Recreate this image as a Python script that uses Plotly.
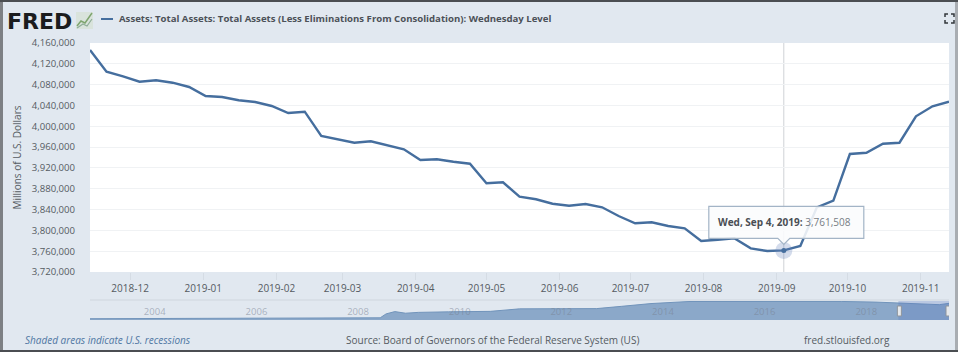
import plotly.graph_objects as go
import pandas as pd

W, H = 958, 352

# ---- data ----
SERIES_NAME = "Assets: Total Assets: Total Assets (Less Eliminations From Consolidation): Wednesday Level"
DATES = pd.date_range("2018-11-14", periods=53, freq="7D").strftime("%Y-%m-%d").tolist()
VALUES = [
    4146500, 4104900, 4096000, 4085600, 4088300, 4083700, 4075500, 4058200, 4056200, 4049900,
    4046600, 4039000, 4025500, 4028000, 3981300, 3974200, 3968400, 3971100, 3962700, 3955700,
    3935200, 3936500, 3931900, 3928100, 3890400, 3892300, 3864700, 3859700, 3851200, 3847400,
    3850600, 3844300, 3827600, 3813600, 3815500, 3808400, 3803900, 3779500, 3782000, 3784700,
    3765500, 3760300, 3761508, 3769900, 3844300, 3857000, 3946700, 3949200, 3966500, 3968400,
    4019200, 4038400, 4047200,
]
X_TICKS = ["2018-12-01", "2019-01-01", "2019-02-01", "2019-03-01", "2019-04-01", "2019-05-01",
           "2019-06-01", "2019-07-01", "2019-08-01", "2019-09-01", "2019-10-01", "2019-11-01"]
Y_TICKS = [3720000 + 40000 * i for i in range(12)]
HOVER_DATE = "2019-09-04"
HOVER_VALUE = 3761508
HOVER_LABEL = "Wed, Sep 4, 2019:"
HOVER_TEXT = "3,761,508"

NAV_DATES = ["2002-12-18", "2005-01-05", "2007-12-05", "2008-09-03", "2008-10-15", "2008-12-17",
             "2009-03-04", "2009-06-03", "2010-01-06", "2010-11-03", "2011-06-01", "2012-06-06",
             "2012-12-05", "2013-06-05", "2014-01-01", "2014-10-01", "2016-01-06", "2017-10-04",
             "2018-06-06", "2019-01-02", "2019-09-04", "2019-11-13"]
NAV_VALUES = [700000, 760000, 870000, 900000, 1750000, 2250000,
              1900000, 2080000, 2200000, 2300000, 2850000, 2850000,
              2900000, 3400000, 4000000, 4450000, 4480000, 4460000,
              4320000, 4050000, 3760000, 4047000]
NAV_TICKS = ["2004-01-01", "2006-01-01", "2008-01-01", "2010-01-01",
             "2012-01-01", "2014-01-01", "2016-01-01", "2018-01-01"]

CHROME = "#e1e8f0"
TEXT = "#555b62"
LINE = "#456e9e"
FONT = "Open Sans"


def px(x):
    return x / W


def py(y):
    return 1 - y / H


PLOT_L, PLOT_R, PLOT_T, PLOT_B = 90, 949, 43, 272
NAV_T, NAV_B = 301, 320

fig = go.Figure()
fig.add_trace(go.Scatter(x=DATES, y=VALUES, mode="lines", name=SERIES_NAME,
                         line=dict(color=LINE, width=2.4), showlegend=False))
fig.add_trace(go.Scatter(x=[HOVER_DATE], y=[HOVER_VALUE], mode="markers", showlegend=False,
                         marker=dict(size=17, color="rgba(100,130,185,0.28)")))
fig.add_trace(go.Scatter(x=[HOVER_DATE], y=[HOVER_VALUE], mode="markers", showlegend=False,
                         marker=dict(size=5, color=LINE)))
fig.add_trace(go.Scatter(x=NAV_DATES, y=NAV_VALUES, mode="lines", xaxis="x2", yaxis="y2",
                         showlegend=False, fill="tozeroy", fillcolor="#8ba8c9",
                         line=dict(color="#7194bb", width=1)))

shapes = [
    # navigator background (paints over the white plot background)
    dict(type="rect", xref="paper", yref="paper", x0=px(PLOT_L), x1=px(PLOT_R), y0=py(NAV_B), y1=py(NAV_T),
         fillcolor=CHROME, line_width=0, layer="below"),
    # screenshot frame
    dict(type="rect", xref="paper", yref="paper", x0=px(0), x1=px(3), y0=0, y1=1,
         fillcolor="#7d8084", line_width=0, layer="below"),
    dict(type="rect", xref="paper", yref="paper", x0=px(955), x1=px(958), y0=0, y1=1,
         fillcolor="#a9adb2", line_width=0, layer="below"),
    dict(type="rect", xref="paper", yref="paper", x0=0, x1=1, y0=py(2), y1=1,
         fillcolor="#4b4e52", line_width=0, layer="below"),
    dict(type="rect", xref="paper", yref="paper", x0=0, x1=1, y0=0, y1=py(350),
         fillcolor="#4b4e52", line_width=0, layer="below"),
    # separator above the navigator
    dict(type="line", xref="paper", yref="paper", x0=px(PLOT_L), x1=px(PLOT_R),
         y0=py(300), y1=py(300), line=dict(color="#cfd6de", width=1), layer="below"),
    # legend key
    dict(type="line", xref="paper", yref="paper", x0=px(101), x1=px(113), y0=py(19), y1=py(19),
         line=dict(color=LINE, width=2)),
    # crosshair
    dict(type="line", xref="x", yref="paper", x0=HOVER_DATE, x1=HOVER_DATE,
         y0=py(PLOT_B), y1=py(PLOT_T), line=dict(color="#cfd2d6", width=1), layer="below"),
    # navigator selection
    dict(type="rect", xref="x2", yref="paper", x0=DATES[0], x1=DATES[-1], y0=py(NAV_B), y1=py(NAV_T),
         fillcolor="rgba(85,120,190,0.28)", line_width=0),
    # tooltip
    dict(type="path", xref="x", yref="y", xsizemode="pixel", ysizemode="pixel",
         xanchor=HOVER_DATE, yanchor=HOVER_VALUE,
         path="M -75 12 L -6 12 L 0 6 L 6 12 L 80 12 L 80 44 L -75 44 Z",
         fillcolor="rgba(250,252,253,0.88)", line=dict(color="#a3b4c6", width=1.2)),
    # logo icon
    dict(type="rect", xref="paper", yref="paper", x0=px(76), x1=px(93), y0=py(29), y1=py(12),
         fillcolor="#d9e3dc", line_width=0),
    dict(type="path", xref="paper", yref="paper",
         path=f"M {px(77)} {py(26)} L {px(81)} {py(21)} L {px(85)} {py(23)} L {px(92)} {py(13)}",
         line=dict(color="#7ea56f", width=1.5)),
    dict(type="path", xref="paper", yref="paper",
         path=f"M {px(77)} {py(28)} L {px(83)} {py(24)} L {px(87)} {py(26)} L {px(92)} {py(19)}",
         line=dict(color="#8fae98", width=1.2)),
]
# navigator handles at both ends of the selection
for d in (DATES[0], DATES[-1]):
    shapes.append(dict(type="rect", xref="x2", yref="paper", xsizemode="pixel", xanchor=d,
                       x0=-3 if d == DATES[-1] else -1, x1=1 if d == DATES[-1] else 3,
                       y0=py(316), y1=py(306),
                       fillcolor="#e6e9ec", line=dict(color="#8f959c", width=1)))
# full-screen icon corners
for cx, cy, dx, dy in [(945, 14, 1, 1), (954, 14, -1, 1), (945, 23, 1, -1), (954, 23, -1, -1)]:
    shapes.append(dict(type="path", xref="paper", yref="paper",
                       path=f"M {px(cx + 3 * dx)} {py(cy)} L {px(cx)} {py(cy)} L {px(cx)} {py(cy + 3 * dy)}",
                       line=dict(color="#33373b", width=1.5)))

annotations = [
    dict(text="<b>FRED</b>", xref="paper", yref="paper", x=px(5), y=py(21), xanchor="left", yanchor="middle",
         showarrow=False, font=dict(family="DejaVu Sans", size=22, color="#1b1c1e")),
    dict(text="<b>" + SERIES_NAME + "</b>", xref="paper", yref="paper", x=px(117), y=py(19),
         xanchor="left", yanchor="middle", showarrow=False,
         font=dict(family=FONT, size=9.6, color="#4c5158")),
    dict(text="<i>Shaded areas indicate U.S. recessions</i>", xref="paper", yref="paper", x=px(23), y=py(340),
         xanchor="left", yanchor="middle", showarrow=False,
         font=dict(family=FONT, size=10, color="#4f77a3")),
    dict(text="Source: Board of Governors of the Federal Reserve System (US)", xref="paper", yref="paper",
         x=px(344), y=py(340), xanchor="left", yanchor="middle", showarrow=False,
         font=dict(family=FONT, size=10, color=TEXT)),
    dict(text="fred.stlouisfed.org", xref="paper", yref="paper", x=px(802), y=py(340),
         xanchor="left", yanchor="middle", showarrow=False,
         font=dict(family=FONT, size=10, color=TEXT)),
    dict(text=f"<b>{HOVER_LABEL}</b> <span style='color:#777d84'>{HOVER_TEXT}</span>", xref="x", yref="y",
         x=HOVER_DATE, y=HOVER_VALUE, xshift=1, yshift=28, showarrow=False,
         font=dict(family=FONT, size=10, color="#4a4e54")),
]

fig.update_layout(
    width=W, height=H, margin=dict(l=0, r=0, t=0, b=0, pad=0),
    paper_bgcolor=CHROME, plot_bgcolor="white",
    font=dict(family=FONT, size=10, color=TEXT),
    showlegend=False, hovermode=False,
    shapes=shapes, annotations=annotations,
    xaxis=dict(domain=[px(PLOT_L), px(PLOT_R)], range=[DATES[0], DATES[-1]], anchor="y", automargin=False,
               tickvals=X_TICKS, tickformat="%Y-%m", ticks="outside", ticklen=7,
               tickcolor="#d5dce4", showgrid=False, zeroline=False, showline=False,
               tickfont=dict(size=10, color=TEXT)),
    yaxis=dict(domain=[py(PLOT_B), py(PLOT_T)], range=[Y_TICKS[0], Y_TICKS[-1]], anchor="x", automargin=False,
               tickvals=Y_TICKS, tickformat=",d", ticks="outside", ticklen=12,
               tickcolor="rgba(0,0,0,0)", gridcolor="#f0f2f4", gridwidth=1, zeroline=False,
               showline=False, tickfont=dict(size=9.6, color=TEXT),
               title=dict(text="Millions of U.S. Dollars", standoff=8,
                          font=dict(size=10, color=TEXT))),
    xaxis2=dict(domain=[px(PLOT_L), px(PLOT_R)], range=[NAV_DATES[0], NAV_DATES[-1]], anchor="y2", automargin=False,
                tickvals=NAV_TICKS, tickformat="%Y", ticks="", showgrid=False, zeroline=False,
                showline=False, ticklabelposition="inside", ticklabelshift=12,
                tickfont=dict(size=9.5, color="rgba(120,130,145,0.55)"), layer="above traces"),
    yaxis2=dict(domain=[py(NAV_B), py(NAV_T)], range=[420000, 4560000], anchor="x2", automargin=False,
                visible=False, fixedrange=True),
)

fig.write_html("out.html", config={"displayModeBar": False},
               post_script="document.body.style.margin='0';")
